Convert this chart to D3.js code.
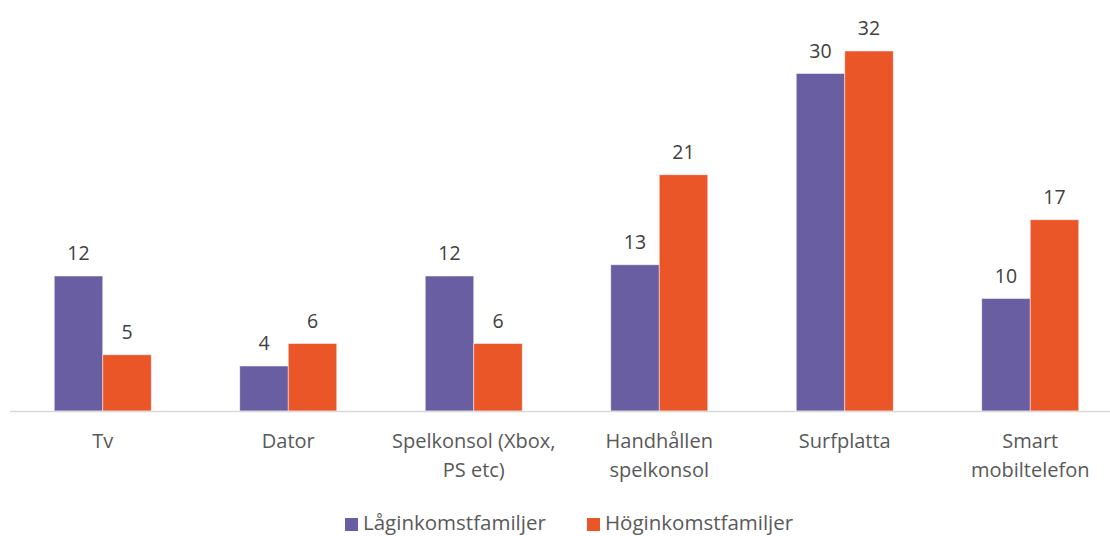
<!DOCTYPE html>
<html>
<head>
<meta charset="utf-8">
<script src="https://cdn.jsdelivr.net/npm/d3@7"></script>
<style>
  body { margin: 0; background: #fff; }
  svg text { font-family: "Open Sans", "Noto Sans", sans-serif; }
</style>
</head>
<body>
<svg id="chart" width="1110" height="536"></svg>
<script>
// Kategorier (enheter) och serievärden
const categories = [
  ["Tv"],
  ["Dator"],
  ["Spelkonsol (Xbox,", "PS etc)"],
  ["Handhållen", "spelkonsol"],
  ["Surfplatta"],
  ["Smart", "mobiltelefon"]
];
const seriesNames = ["Låginkomstfamiljer", "Höginkomstfamiljer"];
const lowIncome = [12, 4, 12, 13, 30, 10];
const highIncome = [5, 6, 6, 21, 32, 17];
const colors = ["#6A5EA3", "#EB5629"];

const svg = d3.select("#chart");
const baseY = 411;
const topY = 51;

const x0 = d3.scaleBand()
  .domain(d3.range(categories.length))
  .range([10, 1123])
  .paddingInner(0)
  .paddingOuter(0);

const x1 = d3.scaleBand()
  .domain([0, 1])
  .range([0, 97])
  .padding(0);

const y = d3.scaleLinear().domain([0, 32]).range([baseY, topY]);

const series = [lowIncome, highIncome];

const groups = svg.selectAll("g.group")
  .data(categories)
  .join("g")
  .attr("class", "group")
  .attr("transform", (d, i) => `translate(${x0(i) + x0.bandwidth() / 2 - 48.5},0)`);

groups.each(function (cat, i) {
  const g = d3.select(this);
  series.forEach((vals, s) => {
    const v = vals[i];
    g.append("rect")
      .attr("x", x1(s))
      .attr("y", y(v))
      .attr("width", x1.bandwidth())
      .attr("height", y(0) - y(v))
      .attr("fill", colors[s])
      .attr("stroke", "#ffffff")
      .attr("stroke-opacity", 0.6)
      .attr("stroke-width", 0.8);
    g.append("text")
      .attr("x", x1(s) + x1.bandwidth() / 2)
      .attr("y", y(v) - 16)
      .attr("text-anchor", "middle")
      .attr("font-size", 19.5)
      .attr("fill", "#404040")
      .text(v);
  });
});

// Kategoriaxel
svg.append("line")
  .attr("x1", 10).attr("x2", 1110)
  .attr("y1", baseY + 0.5).attr("y2", baseY + 0.5)
  .attr("stroke", "#d9d9d9")
  .attr("stroke-width", 1.5);

categories.forEach((lines, i) => {
  const t = svg.append("text")
    .attr("x", x0(i) + x0.bandwidth() / 2)
    .attr("y", 448)
    .attr("text-anchor", "middle")
    .attr("font-size", 20)
    .attr("fill", "#595959");
  lines.forEach((ln, k) => {
    t.append("tspan")
      .attr("x", x0(i) + x0.bandwidth() / 2)
      .attr("dy", k === 0 ? 0 : 29)
      .text(ln);
  });
});

// Förklaring
const legendX = [345, 587];
seriesNames.forEach((name, s) => {
  svg.append("rect")
    .attr("x", legendX[s]).attr("y", 518)
    .attr("width", 13).attr("height", 13)
    .attr("fill", colors[s]);
  svg.append("text")
    .attr("x", legendX[s] + 18)
    .attr("y", 530)
    .attr("font-size", 20.5)
    .attr("fill", "#595959")
    .text(name);
});
</script>
</body>
</html>
